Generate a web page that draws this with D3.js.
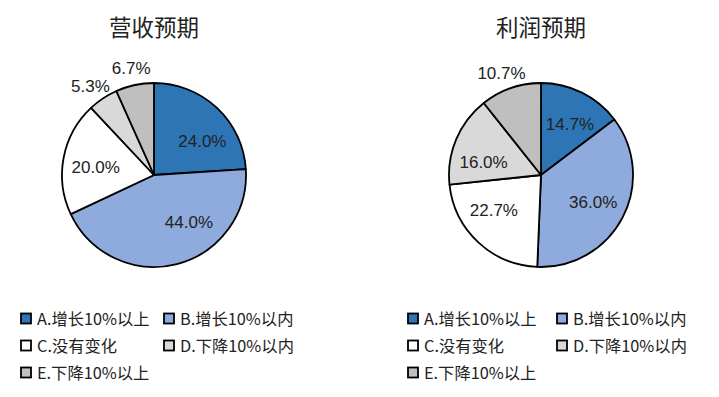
<!DOCTYPE html>
<html>
<head>
<meta charset="utf-8">
<script src="https://cdn.jsdelivr.net/npm/d3@7.9.0/dist/d3.min.js"></script>
<style>
  body { margin: 0; background: #fff; }
  svg { display: block; }
  .title { font-family: "Noto Sans CJK SC", sans-serif; font-size: 22.5px; fill: #222; }
  .pct { font-family: "Liberation Sans", sans-serif; font-size: 17px; fill: #222; }
  .leg { font-family: "Noto Sans CJK SC", sans-serif; font-size: 16.3px; fill: #222; }
</style>
</head>
<body>
<svg id="chart" width="719" height="397"></svg>
<script>
const categories = ['A.增长10%以上', 'B.增长10%以内', 'C.没有变化', 'D.下降10%以内', 'E.下降10%以上'];
const revenueValues = [24.0, 44.0, 20.0, 5.3, 6.7];
const profitValues = [14.7, 36.0, 22.7, 16.0, 10.7];
const chartTitles = ['营收预期', '利润预期'];
const colors = ['#2e75b6', '#8faadc', '#ffffff', '#d9d9d9', '#bfbfbf'];

const svg = d3.select('#chart');
const radius = 92;

// label placement like the spreadsheet's "best fit": outside flag + small angle shift (deg)
const charts = [
  { title: chartTitles[0], values: revenueValues, cx: 154, cy: 175, legX: 20, colGap: 143,
    outside: [false, false, false, true, true], shift: [12, -22, -3, -2, 0] },
  { title: chartTitles[1], values: profitValues, cx: 541, cy: 175, legX: 407, colGap: 149,
    outside: [false, false, false, false, true], shift: [3, 0, 10, -10, -2] }
];

const pie = d3.pie().sort(null).value((d) => d);
const arcGen = d3.arc().innerRadius(0).outerRadius(radius);

function labelPos(d, r, shiftDeg) {
  const a = (d.startAngle + d.endAngle) / 2 + shiftDeg * Math.PI / 180;
  return [Math.sin(a) * r, -Math.cos(a) * r];
}

charts.forEach((c) => {
  const g = svg.append('g').attr('transform', `translate(${c.cx},${c.cy})`);

  svg.append('text')
    .attr('class', 'title')
    .attr('x', c.cx)
    .attr('y', 36)
    .attr('text-anchor', 'middle')
    .text(c.title);

  const arcs = pie(c.values);
  g.selectAll('path')
    .data(arcs)
    .join('path')
    .attr('d', arcGen)
    .attr('fill', (d, i) => colors[i])
    .attr('stroke', '#000')
    .attr('stroke-width', 1.8)
    .attr('stroke-linejoin', 'round');

  g.selectAll('text')
    .data(arcs)
    .join('text')
    .attr('class', 'pct')
    .attr('transform', (d, i) => {
      const r = c.outside[i] ? radius + 17 : radius * 0.64;
      const p = labelPos(d, r, c.shift[i]);
      return `translate(${p[0]},${p[1]})`;
    })
    .attr('text-anchor', 'middle')
    .attr('dy', '0.35em')
    .text((d) => d.data.toFixed(1) + '%');

  const leg = svg.append('g');
  categories.forEach((name, i) => {
    const col = i % 2;
    const row = Math.floor(i / 2);
    const x = c.legX + col * c.colGap;
    const y = 319 + row * 27;
    leg.append('rect')
      .attr('x', x + 1)
      .attr('y', y - 5.5)
      .attr('width', 10)
      .attr('height', 10)
      .attr('fill', colors[i])
      .attr('stroke', '#000')
      .attr('stroke-width', 1.8);
    leg.append('text')
      .attr('class', 'leg')
      .attr('x', x + 17)
      .attr('y', y)
      .attr('dy', '0.35em')
      .text(name);
  });
});
</script>
</body>
</html>
